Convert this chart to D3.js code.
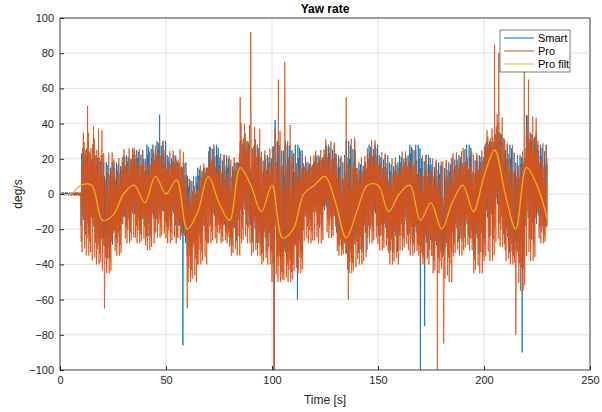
<!DOCTYPE html>
<html>
<head>
<meta charset="utf-8">
<script src="https://d3js.org/d3.v7.min.js"></script>
<style>
body{margin:0;background:#fff;font-family:"Liberation Sans",Arial,sans-serif}
.grid line{stroke:#dfdfdf}
</style>
</head>
<body>
<svg id="chart" width="602" height="412"></svg>
<script>
// times of the envelope readings [s]
var knots = [0,5,10,15,20,25,30,35,40,45,50,55,60,65,70,75,80,85,90,95,100,105,110,115,120,125,130,135,140,145,150,155,160,165,170,175,180,185,190,195,200,205,210,215,220,225,230];
var filtVals = [0,0,5,5,-15,-12,0,5,-5,10,0,8,-20,-10,10,-5,-15,15,5,-10,5,-25,-20,0,5,10,-5,-25,-10,5,5,-10,0,5,-15,-5,-20,-5,5,-10,10,25,0,-20,15,5,-15];
var proMax = [1,2,40,45,30,25,30,30,28,35,28,30,12,20,30,28,25,45,45,30,45,50,30,25,28,35,28,40,25,35,28,25,28,30,28,25,25,28,30,28,40,50,35,28,50,35,28];
var proMin = [-1,-2,-35,-40,-45,-35,-28,-28,-32,-25,-28,-25,-50,-40,-28,-28,-35,-28,-35,-40,-50,-50,-45,-28,-28,-25,-35,-45,-40,-28,-32,-40,-32,-35,-40,-45,-50,-35,-32,-45,-38,-30,-40,-55,-38,-28,-35];
var smartMax = [2,2,25,22,18,18,22,25,28,30,22,18,10,15,28,22,18,30,28,22,30,30,28,18,22,28,22,30,18,28,22,18,22,28,22,18,18,22,28,22,30,35,28,22,35,28,18];
var smartMin = [-2,-2,-28,-32,-40,-28,-22,-22,-28,-18,-22,-30,-38,-32,-22,-22,-32,-22,-32,-38,-40,-40,-38,-22,-22,-18,-32,-40,-38,-22,-28,-38,-28,-32,-40,-40,-38,-32,-28,-40,-32,-22,-38,-45,-32,-22,-38];
// isolated spikes [t, value]
var proSpikes = [[13,50],[21,-65],[60,-65],[85,55],[90,92],[101,-100],[103,65],[106,75],[135,55],[136,-60],[178,-100],[181,-85],[205,85],[207,80],[215,-80],[219,70],[221,65]];
var smartSpikes = [[47,45],[58,-86],[101,-100],[101.5,42],[112,-60],[170,-100],[172,-75],[218,-90],[220,45]];
// amplitude pattern
var jitter = [1,0.55,0.8,0.35,0.95,0.6,0.45,0.85,0.3,0.7,0.9,0.5,0.65,0.4,1,0.6,0.75,0.35,0.55,0.85];
var xTicks = [0,50,100,150,200,250];
var yTicks = [-100,-80,-60,-40,-20,0,20,40,60,80,100];

var m = {l:60,r:12,t:18,b:42}, W=602, H=412;
var svg = d3.select("#chart");
var x = d3.scaleLinear().domain([0,250]).range([m.l, W-m.r]);
var y = d3.scaleLinear().domain([-100,100]).range([H-m.b, m.t]);

svg.append("g").attr("class","grid").selectAll("line").data(xTicks).join("line")
  .attr("x1",d=>x(d)).attr("x2",d=>x(d)).attr("y1",m.t).attr("y2",H-m.b);
svg.append("g").attr("class","grid").selectAll("line").data(yTicks).join("line")
  .attr("y1",d=>y(d)).attr("y2",d=>y(d)).attr("x1",m.l).attr("x2",W-m.r);

function build(hi, lo, spikes, shift, t0, t1) {
  var pts = [], k = 0;
  for (var i = 0; i < knots.length - 1; i++) {
    for (var s = 0; s < 25; s++) {
      var t = knots[i] + s * 0.2;
      if (t < t0 || t > t1) continue;
      var j = jitter[(s + shift + i) % jitter.length];
      var base = filtVals[i] + (filtVals[i+1] - filtVals[i]) * s / 25;
      var v = (k % 2 === 0) ? base + (hi[i] - base) * j : base + (lo[i] - base) * j;
      if (hi[i] < 5) v = (k % 2 === 0 ? 1 : -1) * j;
      spikes.forEach(function(p){ if (Math.abs(p[0] - t) < 0.1) v = p[1]; });
      pts.push([t, Math.max(-100, Math.min(100, v))]);
      k++;
    }
  }
  return pts;
}
var line = d3.line().x(d=>x(d[0])).y(d=>y(d[1]));
svg.append("clipPath").attr("id","c").append("rect")
  .attr("x",m.l).attr("y",m.t).attr("width",W-m.l-m.r).attr("height",H-m.t-m.b);
var plot = svg.append("g").attr("clip-path","url(#c)");
plot.append("path").datum(build(smartMax, smartMin, smartSpikes, 7, 0.5, 232)).attr("d",line)
  .attr("fill","none").attr("stroke","#0072BD").attr("stroke-width",0.8);
plot.append("path").datum(build(proMax, proMin, proSpikes, 0, 5, 232)).attr("d",line)
  .attr("fill","none").attr("stroke","#D95319").attr("stroke-width",0.8);
plot.append("path").datum(knots.map((t,i)=>[t,filtVals[i]])).attr("d",d3.line().curve(d3.curveCatmullRom).x(d=>x(d[0])).y(d=>y(d[1])))
  .attr("fill","none").attr("stroke","#EDB120").attr("stroke-width",1.3);

var ax = svg.append("g").attr("transform","translate(0,"+(H-m.b)+")")
  .call(d3.axisBottom(x).tickValues(xTicks).tickSize(-4).tickPadding(6));
var ay = svg.append("g").attr("transform","translate("+m.l+",0)")
  .call(d3.axisLeft(y).tickValues(yTicks).tickSize(-4).tickPadding(6));
[ax,ay].forEach(a=>{a.select(".domain").remove();a.selectAll("text").attr("font-size",11).attr("fill","#262626");a.selectAll("line").attr("stroke","#262626");});
svg.append("rect").attr("x",m.l).attr("y",m.t).attr("width",W-m.l-m.r).attr("height",H-m.t-m.b)
  .attr("fill","none").attr("stroke","#262626").attr("stroke-width",0.8);

svg.append("text").attr("x",(m.l+W-m.r)/2).attr("y",13).attr("text-anchor","middle")
  .attr("font-weight","bold").attr("font-size",12).text("Yaw rate");
svg.append("text").attr("x",(m.l+W-m.r)/2).attr("y",H-8).attr("text-anchor","middle")
  .attr("font-size",12).attr("fill","#262626").text("Time [s]");
svg.append("text").attr("transform","translate(22,"+((m.t+H-m.b)/2)+") rotate(-90)").attr("text-anchor","middle")
  .attr("font-size",12).attr("fill","#262626").text("deg/s");

var names = ["Smart","Pro","Pro filt"], cols = ["#0072BD","#D95319","#EDB120"];
var lg = svg.append("g").attr("transform","translate(500,30)");
lg.append("rect").attr("width",70).attr("height",42).attr("fill","#fff").attr("stroke","#262626").attr("stroke-width",0.6);
names.forEach((n,i)=>{
  lg.append("line").attr("x1",4).attr("x2",34).attr("y1",8+i*13).attr("y2",8+i*13).attr("stroke",cols[i]);
  lg.append("text").attr("x",38).attr("y",12+i*13).attr("font-size",11).text(n);
});
</script>
</body>
</html>
